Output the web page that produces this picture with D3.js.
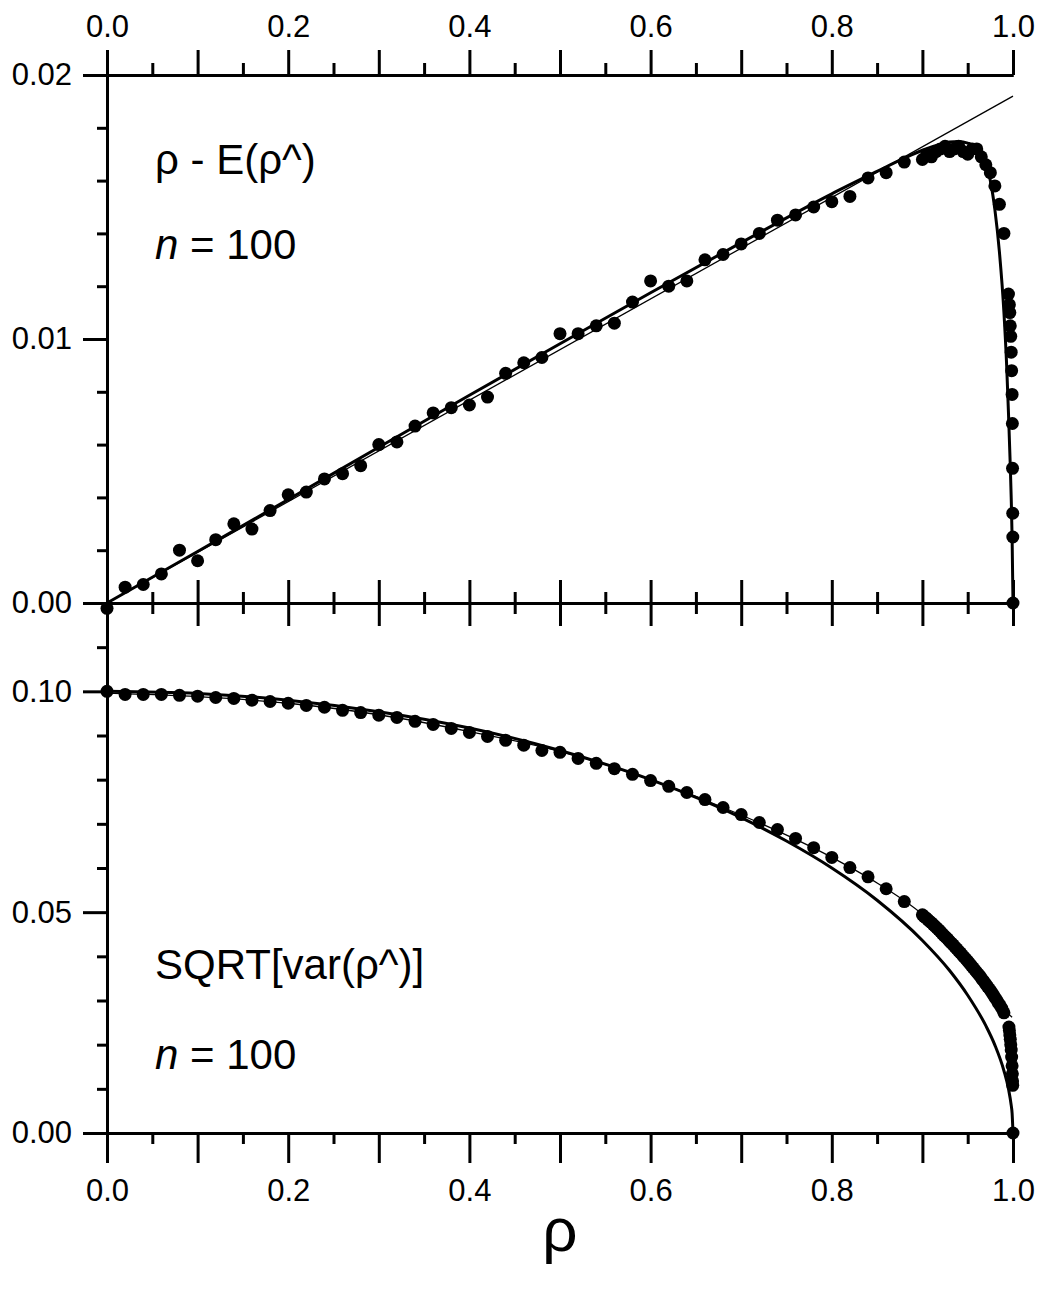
<!DOCTYPE html>
<html>
<head>
<meta charset="utf-8">
<script src="https://cdn.jsdelivr.net/npm/d3@7"></script>
<style>
  html, body { margin: 0; padding: 0; background: #fff; }
  svg { display: block; font-family: "Liberation Sans", Arial, Helvetica, sans-serif; }
</style>
</head>
<body>
<svg id="chart" width="1046" height="1292"></svg>
<script>
// ---------- data ----------
// Upper panel: bias rho - E(rho^), simulated points
const biasRho = [
  0, 0.02, 0.04, 0.06, 0.08, 0.10, 0.12, 0.14, 0.16, 0.18,
  0.20, 0.22, 0.24, 0.26, 0.28, 0.30, 0.32, 0.34, 0.36, 0.38,
  0.40, 0.42, 0.44, 0.46, 0.48, 0.50, 0.52, 0.54, 0.56, 0.58,
  0.60, 0.62, 0.64, 0.66, 0.68, 0.70, 0.72, 0.74, 0.76, 0.78,
  0.80, 0.82, 0.84, 0.86, 0.88,
  0.900, 0.905, 0.910, 0.915, 0.920, 0.925, 0.930, 0.935, 0.940, 0.945,
  0.950, 0.955, 0.960, 0.965, 0.970, 0.975, 0.980, 0.985, 0.990,
  0.995, 0.996, 0.9965, 0.997, 0.9975, 0.998, 0.9985, 0.999, 0.9993, 0.9995, 0.9997, 0.9998, 1.0
];
const biasSim = [
  -0.0002, 0.0006, 0.0007, 0.0011, 0.0020, 0.0016, 0.0024, 0.0030, 0.0028, 0.0035,
  0.0041, 0.0042, 0.0047, 0.0049, 0.0052, 0.0060, 0.0061, 0.0067, 0.0072, 0.0074,
  0.0075, 0.0078, 0.0087, 0.0091, 0.0093, 0.0102, 0.0102, 0.0105, 0.0106, 0.0114,
  0.0122, 0.0120, 0.0122, 0.0130, 0.0132, 0.0136, 0.0140, 0.0145, 0.0147, 0.0150,
  0.0152, 0.0154, 0.0161, 0.0163, 0.0167,
  0.0168, 0.0170, 0.0169, 0.0171, 0.0172, 0.0173, 0.0171, 0.0172, 0.0173, 0.0171,
  0.0170, 0.0172, 0.0172, 0.0169, 0.0166, 0.0163, 0.0158, 0.0151, 0.0140,
  0.0117, 0.0113, 0.0110, 0.0105, 0.0101, 0.0095, 0.0088, 0.0079, 0.0068, 0.0051, 0.0034, 0.0025, 0.0
];
// Upper panel: exact bias curve (thick)
const biasExactRho = [0, 0.1, 0.2, 0.3, 0.4, 0.5, 0.6, 0.7, 0.8, 0.85, 0.88, 0.9, 0.92, 0.93, 0.94,
  0.95, 0.96, 0.965, 0.97, 0.975, 0.98, 0.985, 0.99, 0.993, 0.995, 0.997, 0.998, 0.999, 1.0];
const biasExact = [0, 0.00195, 0.00392, 0.00590, 0.00787, 0.00982, 0.01175, 0.01365, 0.01550, 0.01635,
  0.01685, 0.01715, 0.01738, 0.01746, 0.01748, 0.01742, 0.01725, 0.01705, 0.01665, 0.01600,
  0.01490, 0.01330, 0.01100, 0.00900, 0.00720, 0.00520, 0.00400, 0.00250, 0];
// Upper panel: first-order approximation (thin)
const biasApproxRho = [0, 1.0];
const biasApprox = [0, 0.0192];

// Lower panel: SQRT[var(rho^)], simulated points
const sdRho = [
  0, 0.02, 0.04, 0.06, 0.08, 0.10, 0.12, 0.14, 0.16, 0.18,
  0.20, 0.22, 0.24, 0.26, 0.28, 0.30, 0.32, 0.34, 0.36, 0.38,
  0.40, 0.42, 0.44, 0.46, 0.48, 0.50, 0.52, 0.54, 0.56, 0.58,
  0.60, 0.62, 0.64, 0.66, 0.68, 0.70, 0.72, 0.74, 0.76, 0.78,
  0.80, 0.82, 0.84, 0.86, 0.88,
  0.900, 0.902, 0.904, 0.906, 0.908, 0.910, 0.912, 0.914, 0.916, 0.918,
  0.920, 0.922, 0.924, 0.926, 0.928, 0.930, 0.932, 0.934, 0.936, 0.938,
  0.940, 0.942, 0.944, 0.946, 0.948, 0.950, 0.952, 0.954, 0.956, 0.958,
  0.960, 0.962, 0.964, 0.966, 0.968, 0.970, 0.972, 0.974, 0.976, 0.978,
  0.980, 0.982, 0.984, 0.986, 0.988, 0.990,
  0.9955, 0.996, 0.9965, 0.997, 0.9975, 0.998, 0.9985, 0.999, 0.9993, 0.9995, 0.9997, 1.0
];
const sdSim = [
  0.1000, 0.0993, 0.0993, 0.0993, 0.0991, 0.0989, 0.0986, 0.0984, 0.0980, 0.0977,
  0.0973, 0.0968, 0.0964, 0.0957, 0.0952, 0.0946, 0.0941, 0.0932, 0.0925, 0.0916,
  0.0907, 0.0898, 0.0889, 0.0878, 0.0866, 0.0862, 0.0848, 0.0837, 0.0825, 0.0812,
  0.0798, 0.0785, 0.0771, 0.0755, 0.0737, 0.0721, 0.0703, 0.0687, 0.0667, 0.0646,
  0.0624, 0.0601, 0.0580, 0.0553, 0.0524,
  0.0494, 0.0490, 0.0487, 0.0483, 0.0479, 0.0476, 0.0472, 0.0468, 0.0464, 0.0460,
  0.0456, 0.0451, 0.0447, 0.0443, 0.0439, 0.0434, 0.0430, 0.0426, 0.0421, 0.0417,
  0.0412, 0.0408, 0.0403, 0.0398, 0.0394, 0.0389, 0.0384, 0.0379, 0.0374, 0.0369,
  0.0364, 0.0359, 0.0354, 0.0348, 0.0343, 0.0337, 0.0331, 0.0326, 0.0320, 0.0314,
  0.0307, 0.0301, 0.0294, 0.0288, 0.0281, 0.0272,
  0.0240, 0.0232, 0.0222, 0.0212, 0.0200, 0.0188, 0.0172, 0.0152, 0.0134, 0.0118, 0.0108, 0.0
];
// Lower panel: asymptotic standard deviation (thick)
const sdAsymRho = [0, 0.1, 0.2, 0.3, 0.4, 0.5, 0.6, 0.7, 0.75, 0.8, 0.85, 0.9, 0.93, 0.95, 0.97,
  0.98, 0.99, 0.995, 0.998, 0.999, 1.0];
const sdAsym = [0.1000, 0.0995, 0.0980, 0.0954, 0.0917, 0.0866, 0.0800, 0.0714, 0.0661, 0.0600,
  0.0527, 0.0436, 0.0368, 0.0312, 0.0243, 0.0199, 0.0141, 0.0100, 0.0063, 0.0045, 0];
// Lower panel: corrected approximation (thin)
const sdCorrRho = [0, 0.1, 0.2, 0.3, 0.4, 0.5, 0.6, 0.7, 0.8, 0.85, 0.9, 0.93, 0.95, 0.97, 0.98, 0.99, 0.999];
const sdCorr = [0.0996, 0.0988, 0.0973, 0.0947, 0.0909, 0.0864, 0.0800, 0.0720, 0.0624, 0.0566,
  0.0495, 0.0437, 0.0392, 0.0340, 0.0309, 0.0280, 0.0262];

// Axis ticks and labels
const xMajorTicks = [0, 0.1, 0.2, 0.3, 0.4, 0.5, 0.6, 0.7, 0.8, 0.9, 1.0];
const xMinorTicks = [0.05, 0.15, 0.25, 0.35, 0.45, 0.55, 0.65, 0.75, 0.85, 0.95];
const xLabelTicks = [0, 0.2, 0.4, 0.6, 0.8, 1.0];
const biasMajorTicks = [0, 0.01, 0.02];
const biasMinorTicks = [0.002, 0.004, 0.006, 0.008, 0.012, 0.014, 0.016, 0.018];
const sdMajorTicks = [0, 0.05, 0.10];
const sdMinorTicks = [0.01, 0.02, 0.03, 0.04, 0.06, 0.07, 0.08, 0.09, 0.11];
const biasTitle = "ρ - E(ρ^)";
const sdTitle = "SQRT[var(ρ^)]";
const sampleLabel = "100";
const xTitle = "ρ";

// ---------- layout ----------
const svg = d3.select("#chart");
const left = 107, right = 1013;
const topY = 75, midY = 603, botY = 1133;
const AXW = 3;

const x = d3.scaleLinear().domain([0, 1]).range([left, right]);
const yBias = d3.scaleLinear().domain([0, 0.02]).range([midY, topY]);
const ySd = d3.scaleLinear().domain([0, 0.12]).range([botY, midY]);

const fmt1 = d3.format(".1f");
const fmt2 = d3.format(".2f");
const FS = 31;

function styleAxis(g) {
  g.selectAll("path.domain").attr("stroke", "#000").attr("stroke-width", AXW);
  g.selectAll(".tick line").attr("stroke", "#000").attr("stroke-width", AXW);
  g.selectAll(".tick text").attr("fill", "#000").attr("font-size", FS)
    .attr("font-family", "\"Liberation Sans\", Arial, sans-serif");
}

// ---------- axes ----------
const axes = svg.append("g");

// top x axis (ticks outward, labels above)
axes.append("g").attr("transform", `translate(0,${topY})`)
  .call(d3.axisTop(x).tickValues(xMinorTicks).tickSize(12).tickSizeOuter(0).tickFormat(""))
  .call(styleAxis);
axes.append("g").attr("transform", `translate(0,${topY})`)
  .call(d3.axisTop(x).tickValues(xMajorTicks).tickSize(25).tickSizeOuter(0).tickPadding(13)
    .tickFormat(d => xLabelTicks.some(v => Math.abs(v - d) < 1e-9) ? fmt1(d) : ""))
  .call(styleAxis);

// shared middle x axis (ticks across)
[d3.axisTop, d3.axisBottom].forEach(ax => {
  axes.append("g").attr("transform", `translate(0,${midY})`)
    .call(ax(x).tickValues(xMinorTicks).tickSize(11).tickSizeOuter(0).tickFormat(""))
    .call(styleAxis);
  axes.append("g").attr("transform", `translate(0,${midY})`)
    .call(ax(x).tickValues(xMajorTicks).tickSize(23).tickSizeOuter(0).tickFormat(""))
    .call(styleAxis);
});

// bottom x axis
axes.append("g").attr("transform", `translate(0,${botY})`)
  .call(d3.axisBottom(x).tickValues(xMinorTicks).tickSize(11).tickSizeOuter(0).tickFormat(""))
  .call(styleAxis);
axes.append("g").attr("transform", `translate(0,${botY})`)
  .call(d3.axisBottom(x).tickValues(xMajorTicks).tickSize(30).tickSizeOuter(0).tickPadding(16)
    .tickFormat(d => xLabelTicks.some(v => Math.abs(v - d) < 1e-9) ? fmt1(d) : ""))
  .call(styleAxis);

// left y axes
axes.append("g").attr("transform", `translate(${left},0)`)
  .call(d3.axisLeft(yBias).tickValues(biasMinorTicks).tickSize(10).tickSizeOuter(0).tickFormat(""))
  .call(styleAxis);
axes.append("g").attr("transform", `translate(${left},0)`)
  .call(d3.axisLeft(yBias).tickValues(biasMajorTicks).tickSize(24).tickSizeOuter(0).tickPadding(11).tickFormat(fmt2))
  .call(styleAxis);
axes.append("g").attr("transform", `translate(${left},0)`)
  .call(d3.axisLeft(ySd).tickValues(sdMinorTicks).tickSize(10).tickSizeOuter(0).tickFormat(""))
  .call(styleAxis);
axes.append("g").attr("transform", `translate(${left},0)`)
  .call(d3.axisLeft(ySd).tickValues(sdMajorTicks).tickSize(24).tickSizeOuter(0).tickPadding(11).tickFormat(fmt2))
  .call(styleAxis);

// ---------- curves ----------
const plot = svg.append("g");
function drawCurve(rhos, vals, y, width) {
  const pts = rhos.map((r, i) => [r, vals[i]]);
  plot.append("path")
    .datum(pts)
    .attr("fill", "none")
    .attr("stroke", "#000")
    .attr("stroke-width", width)
    .attr("d", d3.line().x(d => x(d[0])).y(d => y(d[1])).curve(d3.curveMonotoneX));
}
drawCurve(biasExactRho, biasExact, yBias, 3);
drawCurve(biasApproxRho, biasApprox, yBias, 1.3);
drawCurve(sdAsymRho, sdAsym, ySd, 3);
drawCurve(sdCorrRho, sdCorr, ySd, 1.3);

function drawDots(rhos, vals, y) {
  plot.append("g").selectAll("circle")
    .data(rhos.map((r, i) => [r, vals[i]]))
    .join("circle")
    .attr("cx", d => x(d[0]))
    .attr("cy", d => y(d[1]))
    .attr("r", 6.5)
    .attr("fill", "#000");
}
drawDots(biasRho, biasSim, yBias);
drawDots(sdRho, sdSim, ySd);

// ---------- text ----------
const txt = svg.append("g").attr("fill", "#000").attr("font-size", 42);
txt.append("text").attr("x", 155).attr("y", 174).text(biasTitle);
const n1 = txt.append("text").attr("x", 155).attr("y", 259);
n1.append("tspan").attr("font-style", "italic").text("n");
n1.append("tspan").text(" = " + sampleLabel);
txt.append("text").attr("x", 155).attr("y", 979).text(sdTitle);
const n2 = txt.append("text").attr("x", 155).attr("y", 1069);
n2.append("tspan").attr("font-style", "italic").text("n");
n2.append("tspan").text(" = " + sampleLabel);

svg.append("text").attr("x", 560).attr("y", 1251).attr("text-anchor", "middle")
  .attr("font-size", 62).attr("fill", "#000").text(xTitle);
</script>
</body>
</html>
